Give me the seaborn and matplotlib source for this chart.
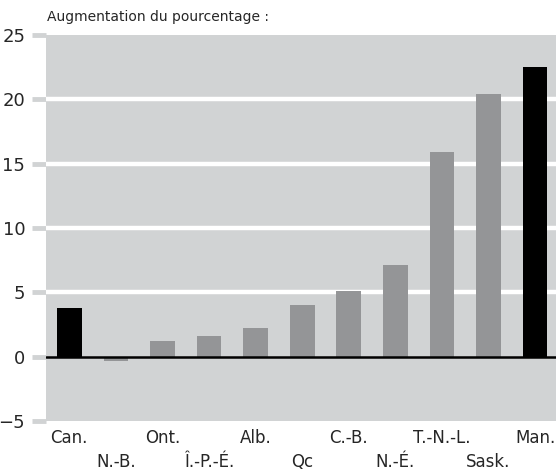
import matplotlib
matplotlib.use("Agg")
import matplotlib.pyplot as plt
import seaborn as sns
import pandas as pd

# données du graphique
provinces = ["Can.", "N.-B.", "Ont.", "Î.-P.-É.", "Alb.", "Qc", "C.-B.",
             "N.-É.", "T.-N.-L.", "Sask.", "Man."]
augmentation = [3.8, -0.3, 1.2, 1.6, 2.25, 4.0, 5.1, 7.1, 15.9, 20.4, 22.5]
surlignees = ["Can.", "Man."]
y_ticks = [-5, 0, 5, 10, 15, 20, 25]

FOND = "#d1d3d4"
GRIS = "#939598"

sns.set_theme(style="white")
plt.rcParams["font.family"] = ["DejaVu Sans Condensed", "Liberation Sans Narrow", "DejaVu Sans"]

df = pd.DataFrame({"province": provinces, "valeur": augmentation})
couleurs = {p: ("black" if p in surlignees else GRIS) for p in provinces}

fig = plt.figure(figsize=(5.56, 4.74), dpi=100)
ax = fig.add_axes([46 / 556, 53 / 474, 1 - 46 / 556, 386 / 474])
ax.set_facecolor(FOND)

sns.barplot(data=df, x="province", y="valeur", hue="province",
            palette=couleurs, width=0.53, legend=False, ax=ax, zorder=3,
            linewidth=0, edgecolor="none")

# lignes blanches de la grille
for t in y_ticks[2:-1]:
    ax.axhline(t, color="white", lw=3.2, zorder=1)
ax.axhline(0, color="black", lw=1.8, zorder=4)

ax.set_ylim(-5, 25)
ax.set_xlim(-0.5, len(provinces) - 0.55)
ax.set_yticks(y_ticks)
ax.set_yticklabels([str(t).replace("-", "\u2212") for t in y_ticks], fontsize=13)
ax.tick_params(axis="y", length=10, width=3.5, color=FOND, pad=5, left=True)

ax.set_xticks(range(len(provinces)))
ax.set_xticklabels([p if i % 2 == 0 else "\n" + p for i, p in enumerate(provinces)],
                   fontsize=12, linespacing=1.4)
ax.tick_params(axis="x", length=0, pad=6)
ax.set_xlabel("")
ax.set_ylabel("")
for s in ax.spines.values():
    s.set_visible(False)

fig.text(47 / 556, 1 - 17 / 474, "Augmentation du pourcentage :",
         fontsize=10, va="center", ha="left")

fig.savefig("out.png", dpi=100)
